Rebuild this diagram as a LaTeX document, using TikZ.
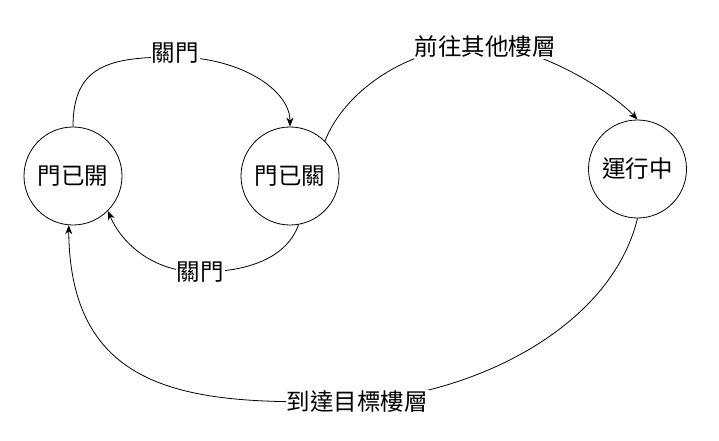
\documentclass[tikz,border=0pt]{standalone}
\usepackage{fontspec}
\setmainfont{Noto Sans CJK TC}
\usetikzlibrary{arrows.meta}
\begin{document}
\begin{tikzpicture}[x=1pt,y=-1pt,
  state/.style={circle,draw,line width=0.8pt,minimum size=98pt,inner sep=0pt,font=\fontsize{23.5}{28}\selectfont},
  lbl/.style={fill=white,inner sep=1pt,font=\fontsize{23.5}{28}\selectfont},
  edge/.style={line width=0.8pt,-{Stealth[length=9pt,width=7pt]}}]
\useasboundingbox (0,0) rectangle (719,441);
\node[state] (A) at (73,176) {門已開};
\node[state] (B) at (290,176) {門已關};
\node[state] (C) at (637.5,169) {運行中};
\coordinate (m1) at (175,57);
\coordinate (m2) at (200,272);
\coordinate (m3) at (485,45);
\coordinate (m4) at (357,401);
\draw[edge] (A.north) .. controls (73,65) and (110,57) .. (m1) .. controls (240,57) and (290,90) .. (B.north);
\draw[edge] (B.-80) .. controls (285,262) and (240,272) .. (m2) .. controls (150,272) and (120,240) .. (A.-45);
\draw[edge] (B.45) .. controls (345,90) and (410,45) .. (m3) .. controls (545,48) and (615,95) .. (C.north);
\draw[edge] (C.south) .. controls (610,330) and (470,395) .. (m4) .. controls (200,405) and (70,400) .. (A.-95);
\node[lbl] (l1) at (175,53) {關門};
\node[lbl] (l2) at (200,272) {關門};
\node[lbl] (l3) at (485,47) {前往其他樓層};
\node[lbl] (l4) at (357,402) {到達目標樓層};
\end{tikzpicture}
\end{document}
